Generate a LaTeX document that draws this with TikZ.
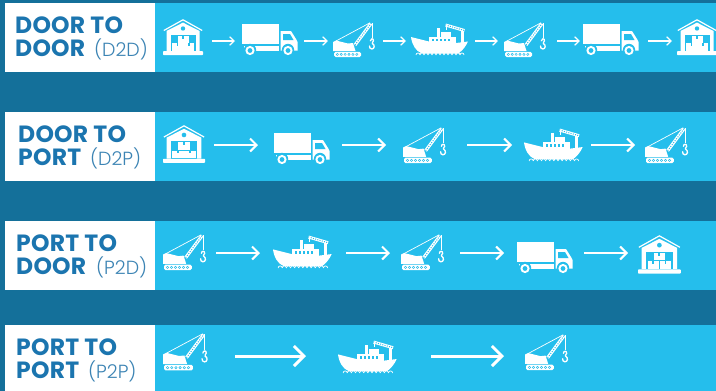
\documentclass[tikz,border=0pt]{standalone}
\usepackage{fontspec}
\setmainfont{Poppins}
\newfontfamily\headfont[LetterSpace=1]{Poppins}
\newfontfamily\codefont{Poppins Light}
\usetikzlibrary{arrows.meta}
\definecolor{seabg}{HTML}{14709A}
\definecolor{barc}{HTML}{25BEEC}
\definecolor{titlec}{HTML}{1B75AF}
\definecolor{codec}{HTML}{3C84B4}
\tikzset{
  x=1pt,y=-1pt,
  stopbox/.style={inner sep=0pt,outer sep=0pt,minimum height=1pt},
  thead/.style={anchor=base west,inner sep=0pt,text=titlec,font=\fontsize{23.5}{23.5}\selectfont\headfont\bfseries},
  tcode/.style={anchor=base west,inner sep=0pt,text=codec,font=\fontsize{19}{19}\selectfont\codefont},
  flowa/.style={white,line width=1.2pt,-{Straight Barb[length=4.5pt,width=8.5pt,line width=1.2pt]}},
  flowb/.style={white,line width=2pt,-{Straight Barb[length=6.5pt,width=13pt,line width=2pt]}},
  flowc/.style={white,line width=3pt,-{Straight Barb[length=10pt,width=20pt,line width=3pt]}},
  warehouse/.pic={
    \draw[white,line width=1.2pt,line join=miter] (0.8,11.5) -- (20,0.8) -- (39.2,11.5);
    \fill[white] (3.5,12) -- (20,3.6) -- (36.5,12) -- (36.5,32) -- (3.5,32) -- cycle;
    \fill[barc] (20,9.5) circle (2.2);
    \fill[barc] (7.5,15.5) rectangle (32.5,32);
    \fill[white] (14.5,16.5) rectangle (25.5,23.5);
    \fill[white] (9,24.3) rectangle (19.6,31.5);
    \fill[white] (20.4,24.3) rectangle (31,31.5);
    \fill[barc] (19,16.5) rectangle (21,19.5);
    \fill[barc] (13.5,24.3) rectangle (15,27);
    \fill[barc] (25,24.3) rectangle (26.5,27);
    \fill[white,rounded corners=0.6pt] (0,32.2) rectangle (40,36);
  },
  truck/.pic={
    \fill[white] (0,0) rectangle (37,20);
    \fill[white] (2,21.5) rectangle (37,26.5);
    \fill[white] (38.5,7) -- (49,7) -- (54,15) -- (55.5,18) -- (55.5,26.5) -- (38.5,26.5) -- cycle;
    \fill[barc] (41,10) -- (48,10) -- (51.5,16) -- (41,16) -- cycle;
    \fill[barc] (8,26) circle (6.2);
    \fill[barc] (46,26) circle (6.2);
    \fill[white] (8,26.5) circle (4.6);
    \fill[white] (46,26.5) circle (4.6);
    \fill[barc] (8,26.5) circle (2.4);
    \fill[barc] (46,26.5) circle (2.4);
  },
  crane/.pic={
    \draw[white,line width=0.7pt] (3,19) -- (37,0.8);
    \draw[white,line width=0.7pt] (39,1) -- (39,16);
    \draw[white,line width=3.2pt] (22,23) -- (38,1.5);
    \draw[barc,line width=1pt,dash pattern=on 1pt off 1.4pt] (22,23) -- (38,1.5);
    \fill[white] (0,20) -- (3,18.5) -- (15,21.5) -- (20,21) -- (22.5,29) -- (0,29) -- cycle;
    \draw[white,line width=1.3pt,line cap=round] (37.3,18.8) .. controls (37.3,16.2) and (40.8,16) .. (40.4,18.8) .. controls (40,20.5) and (38.6,20.8) .. (39.4,21.5) .. controls (42.2,23) and (41.5,27) .. (38.8,27) .. controls (37,27) and (36.5,25.5) .. (36.5,24);
    \fill[white,rounded corners=1.5pt] (1,29.8) rectangle (28,35);
    \foreach \i in {0,...,5} {\fill[barc] (4.3+\i*3.9,32.4) circle (1.45); \fill[white] (4.3+\i*3.9,32.4) circle (0.55);}
  },
  ship/.pic={
    \fill[white] (0,14) -- (18,18.5) -- (45,20) -- (57,18.5) .. controls (55,23) and (52,27) .. (48,30) -- (10,30) .. controls (5,28) and (1,22) .. (0,14) -- cycle;
    \fill[white] (18,14) rectangle (45,21.5);
    \fill[white] (26,4.5) rectangle (29,14);
    \fill[white] (30,9) rectangle (40,14);
    \fill[barc] (21,16) rectangle (23,18);
    \fill[barc] (25,16) rectangle (27,18);
    \fill[barc] (29,16) rectangle (31,18);
    \fill[barc] (33,16) rectangle (35,18);
    \fill[barc] (37,16) rectangle (39,18);
    \fill[white] (49.5,7) rectangle (52.5,20);
    \draw[white,line width=3pt] (34.5,2) -- (53.5,7.5);
    \draw[barc,line width=1pt,dash pattern=on 1pt off 1.3pt] (34.5,2) -- (53.5,7.5);
    \draw[white,line width=0.6pt] (35,2) -- (35,7);
    \foreach \i in {0,...,11} {\draw[white,line width=0.7pt] (5+\i*4,32) arc[start angle=180,end angle=360,radius=2];}
  }
}
\newcommand\stopicon[7]{%
  \node[stopbox,minimum width=#6pt] (#1) at ({#3+#6/2},#7) {};
  \pic[scale=#5] at (#3,#4) {#2};}
\newcommand\flowto[5]{\draw[#1,shorten <=#4pt,shorten >=#5pt] (#2) -- (#3);}
\begin{document}
\begin{tikzpicture}
\useasboundingbox (0,0) rectangle (716,391);
\fill[seabg] (0,0) rectangle (716,391);
\fill[barc] (155,3.3) rectangle (716,72);
\fill[barc] (155,112) rectangle (716,181);
\fill[barc] (155,221) rectangle (716,290);
\fill[barc] (155,325) rectangle (716,391);
\fill[white] (5,3.3) rectangle (155,72);
\fill[white] (5,112) rectangle (155,181);
\fill[white] (5,221) rectangle (155,290);
\fill[white] (5,325) rectangle (155,391);

% titles
\node[thead] (ta1) at (15,33) {DOOR TO};
\node[thead] (ta2) at (15,56) {DOOR};
\node[tcode] (ta3) at (94,56) {(D2D)};
\node[thead] (tb1) at (18,142) {DOOR TO};
\node[thead] (tb2) at (18,165) {PORT};
\node[tcode] (tb3) at (90,165) {(D2P)};
\node[thead] (tc1) at (16,251) {PORT TO};
\node[thead] (tc2) at (16,274) {DOOR};
\node[tcode] (tc3) at (96,274) {(P2D)};
\node[thead] (td1) at (16,355) {PORT TO};
\node[thead] (td2) at (16,378) {PORT};
\node[tcode] (td3) at (88,378) {(P2P)};

% row 1
\stopicon{a1}{warehouse}{163}{19}{1}{40}{41}
\stopicon{a2}{truck}{242}{24}{1}{56}{41}
\stopicon{a3}{crane}{333}{22}{1}{42}{41}
\stopicon{a4}{ship}{411}{23}{1}{57}{41}
\stopicon{a5}{crane}{504}{22}{1}{42}{41}
\stopicon{a6}{truck}{583}{24}{1}{56}{41}
\stopicon{a7}{warehouse}{677}{19}{1}{40}{41}
\flowto{flowa}{a1}{a2}{9}{7}
\flowto{flowa}{a2}{a3}{6}{5}
\flowto{flowa}{a3}{a4}{8}{5}
\flowto{flowa}{a4}{a5}{7}{6}
\flowto{flowa}{a5}{a6}{11}{3}
\flowto{flowa}{a6}{a7}{9}{5}

% row 2
\stopicon{b1}{warehouse}{163}{125}{1.05}{42}{145}
\stopicon{b2}{truck}{274}{133}{1}{56}{145}
\stopicon{b3}{crane}{403}{127}{1.03}{43}{145}
\stopicon{b4}{ship}{524}{128}{1.03}{59}{145}
\stopicon{b5}{crane}{645}{127}{1.03}{43}{145}
\flowto{flowb}{b1}{b2}{9}{16}
\flowto{flowb}{b2}{b3}{12}{17}
\flowto{flowb}{b3}{b4}{21}{12}
\flowto{flowb}{b4}{b5}{8}{10}

% row 3
\stopicon{c1}{crane}{163}{234}{1.03}{43}{253}
\stopicon{c2}{ship}{273}{235}{1.03}{59}{253}
\stopicon{c3}{crane}{401}{234}{1.03}{43}{253}
\stopicon{c4}{truck}{517}{242}{1}{56}{253}
\stopicon{c5}{warehouse}{638}{235}{1.07}{43}{253}
\flowto{flowb}{c1}{c2}{10}{13}
\flowto{flowb}{c2}{c3}{14}{11}
\flowto{flowb}{c3}{c4}{16}{13}
\flowto{flowb}{c4}{c5}{11}{10}

% row 4
\stopicon{d1}{crane}{163}{333}{1.07}{45}{356}
\stopicon{d2}{ship}{338}{340}{1.03}{59}{356}
\stopicon{d3}{crane}{525}{334}{1.03}{43}{356}
\flowto{flowc}{d1}{d2}{27}{32}
\flowto{flowc}{d2}{d3}{34}{21}
\end{tikzpicture}
\end{document}
